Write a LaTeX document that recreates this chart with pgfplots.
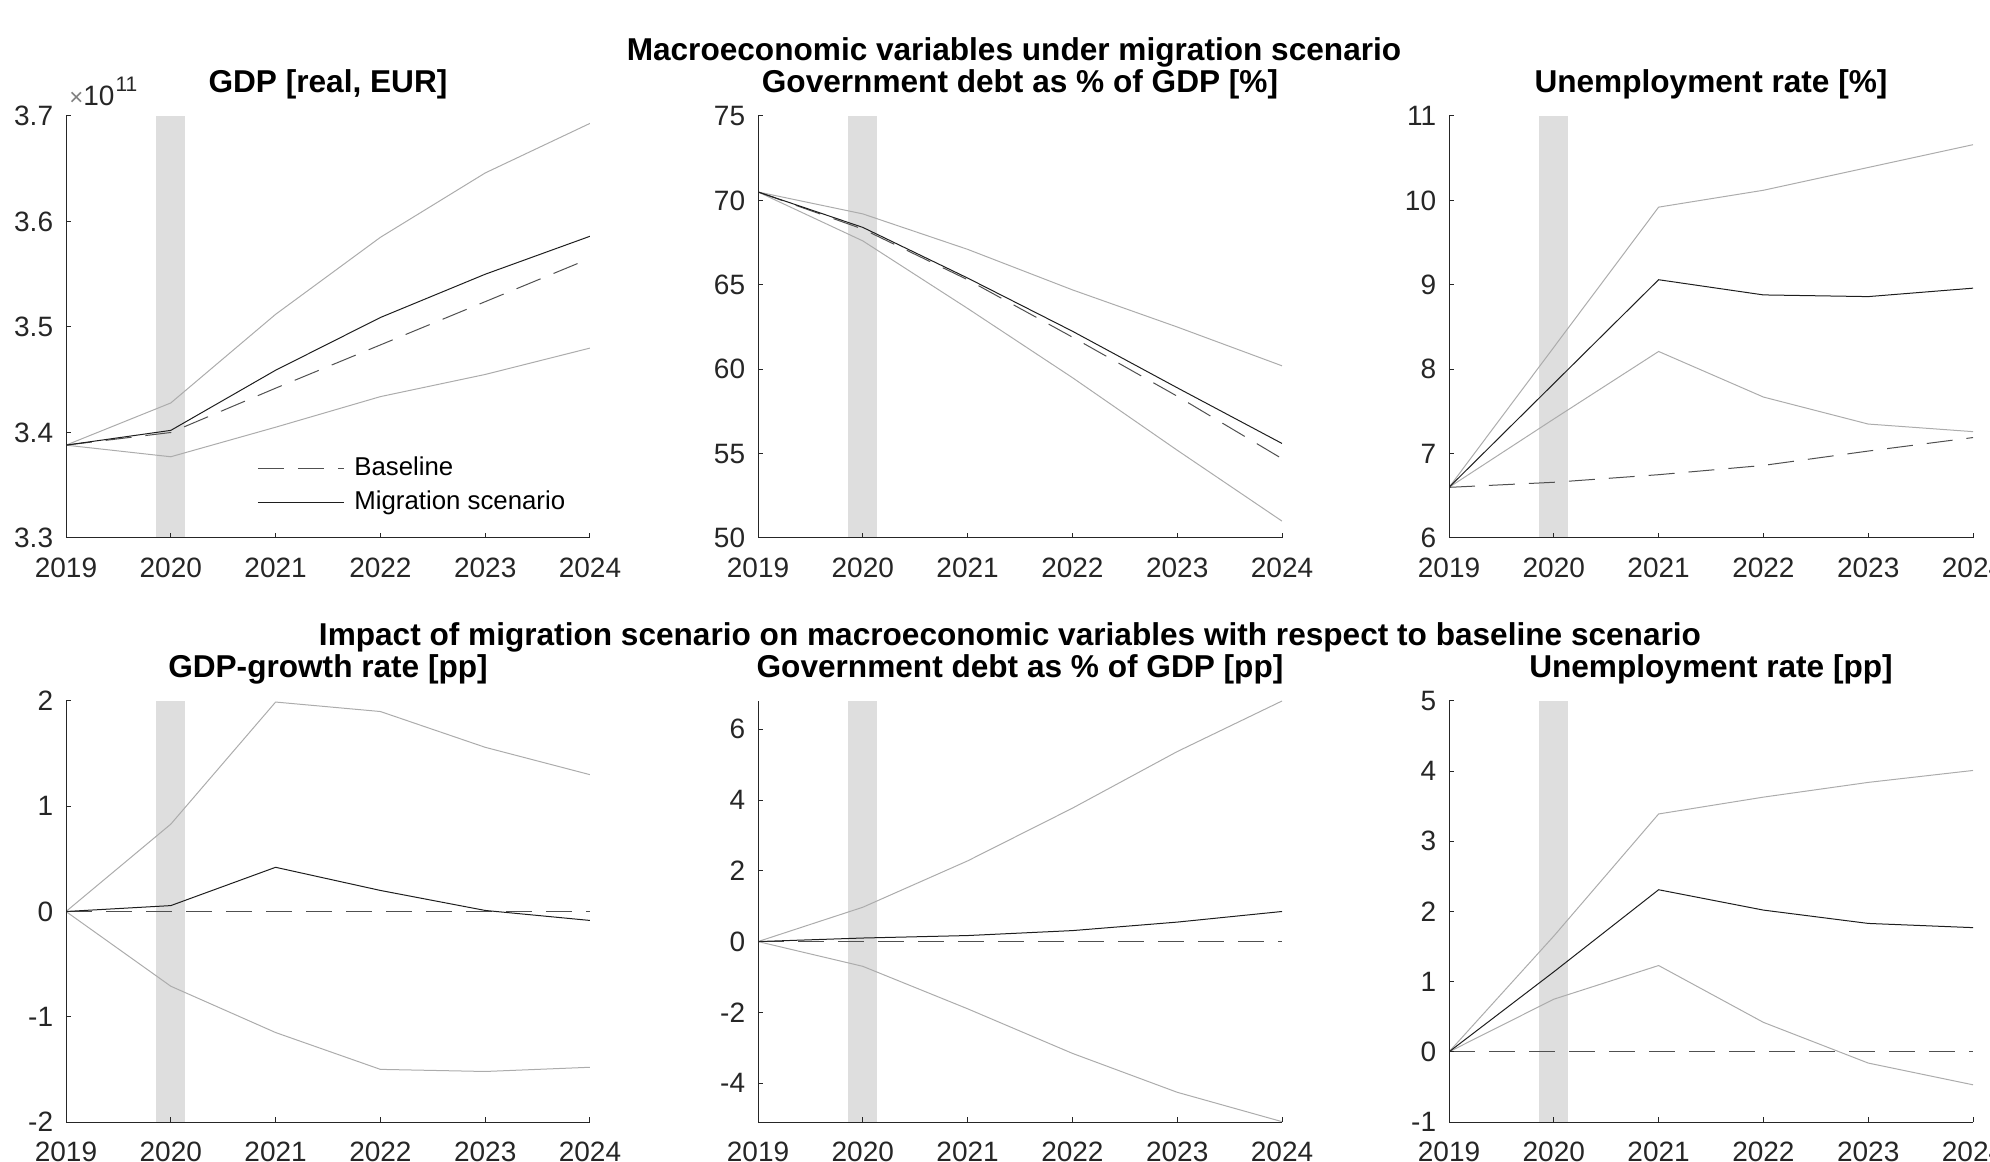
\documentclass[border=0pt]{standalone}
\usepackage{fontspec}
\setmainfont{Liberation Sans}
\usepackage{pgfplots}
\pgfplotsset{compat=1.18}
\definecolor{axgray}{RGB}{38,38,38}
\definecolor{bandc}{RGB}{222,222,222}
\definecolor{boundc}{RGB}{172,172,172}
\definecolor{migc}{RGB}{30,30,30}
\definecolor{basec}{RGB}{80,80,80}
\pgfplotsset{
  panel/.style={
    scale only axis, width=262pt, height=211pt,
    anchor=south west,
    xmin=2019, xmax=2024,
    xtick={2019,2020,2021,2022,2023,2024},
    xticklabels={2019,2020,2021,2022,2023,2024},
    axis x line*=bottom, axis y line*=left,
    axis line style={axgray, line width=0.5pt, -},
    tick align=inside, major tick length=2.5pt,
    tick style={axgray, line width=0.5pt},
    ticklabel style={font=\fontsize{14}{16}\selectfont, text=axgray, inner sep=0pt},
    xticklabel style={anchor=north, yshift=-10pt},
    yticklabel style={anchor=east, xshift=-6.25pt},
    title style={font=\bfseries\fontsize{15.8}{18}\selectfont, at={(0.5,1)}, anchor=base, yshift=5.5pt, inner sep=0pt},
    every axis plot/.append style={line width=0.5pt},
    axis on top,
    clip mode=individual,
  },
  lnb/.style={boundc, forget plot},
  lnm/.style={migc},
  lnd/.style={basec, dash pattern=on 13pt off 7pt},
}
\begin{document}
\begin{tikzpicture}
\path[use as bounding box] (0,0) rectangle (995pt,580.5pt);
\clip (0,0) rectangle (995pt,580.5pt);

\node[anchor=base, inner sep=0pt, font=\bfseries\fontsize{15.8}{18}\selectfont] at (507pt,550.25pt) {Macroeconomic variables under migration scenario};
\node[anchor=base, inner sep=0pt, font=\bfseries\fontsize{15.8}{18}\selectfont] at (505pt,257.5pt) {Impact of migration scenario on macroeconomic variables with respect to baseline scenario};

% ---------- Panel 1: GDP
\begin{axis}[panel, at={(33pt,311.5pt)},
  ymin=3.3, ymax=3.7, ytick={3.3,3.4,3.5,3.6,3.7}, yticklabels={3.3,3.4,3.5,3.6,3.7},
  title={GDP [real, EUR]},
  legend style={draw=none, fill=none, inner sep=0pt,
    at={(axis description cs:0.3645,0.1255)}, anchor=west,
    font=\fontsize{12.9}{14}\selectfont,
    nodes={inner sep=0pt, text height=9.5pt, text depth=2.5pt},
    row sep=5pt, column sep=5pt},
  legend cell align=left,
  legend image code/.code={\draw[#1] (0pt,0pt) -- (43pt,0pt);},
]
\addplot[draw=none, fill=bandc, forget plot] coordinates {(2019.86,3.3) (2020.14,3.3) (2020.14,3.7) (2019.86,3.7)};
\addplot[lnb] coordinates {(2019,3.388) (2020,3.428) (2021,3.512) (2022,3.585) (2023,3.646) (2024,3.693)};
\addplot[lnb] coordinates {(2019,3.388) (2020,3.377) (2021,3.405) (2022,3.434) (2023,3.455) (2024,3.480)};
\addplot[lnd] coordinates {(2019,3.388) (2020,3.400) (2021,3.442) (2022,3.483) (2023,3.524) (2024,3.565)};
\addlegendentry{Baseline}
\addplot[lnm] coordinates {(2019,3.388) (2020,3.402) (2021,3.459) (2022,3.509) (2023,3.550) (2024,3.586)};
\addlegendentry{Migration scenario}
\node[anchor=base west, inner sep=0pt, text=axgray, font=\fontsize{14}{16}\selectfont] at (axis description cs:0,1) [xshift=1.5pt, yshift=5pt] {{\color{gray}\fontsize{12}{14}\selectfont ×}10\kern0.5pt\raisebox{7pt}{\fontsize{10.5}{12}\selectfont 11}};
\end{axis}

% ---------- Panel 2: Debt %
\begin{axis}[panel, at={(379pt,311.5pt)},
  ymin=50, ymax=75, ytick={50,55,60,65,70,75}, yticklabels={50,55,60,65,70,75},
  title={Government debt as \% of GDP [\%]},
]
\addplot[draw=none, fill=bandc, forget plot] coordinates {(2019.86,50) (2020.14,50) (2020.14,75) (2019.86,75)};
\addplot[lnb] coordinates {(2019,70.5) (2020,69.2) (2021,67.1) (2022,64.7) (2023,62.5) (2024,60.2)};
\addplot[lnb] coordinates {(2019,70.5) (2020,67.6) (2021,63.6) (2022,59.5) (2023,55.2) (2024,51.0)};
\addplot[lnd] coordinates {(2019,70.5) (2020,68.3) (2021,65.3) (2022,61.9) (2023,58.4) (2024,54.7)};
\addplot[lnm] coordinates {(2019,70.5) (2020,68.4) (2021,65.4) (2022,62.25) (2023,58.9) (2024,55.6)};
\end{axis}

% ---------- Panel 3: Unemployment %
\begin{axis}[panel, at={(724.5pt,311.5pt)},
  ymin=6, ymax=11, ytick={6,7,8,9,10,11}, yticklabels={6,7,8,9,10,11},
  title={Unemployment rate [\%]},
]
\addplot[draw=none, fill=bandc, forget plot] coordinates {(2019.86,6) (2020.14,6) (2020.14,11) (2019.86,11)};
\addplot[lnb] coordinates {(2019,6.60) (2020,8.26) (2021,9.92) (2022,10.12) (2023,10.39) (2024,10.66)};
\addplot[lnb] coordinates {(2019,6.60) (2020,7.41) (2021,8.21) (2022,7.67) (2023,7.35) (2024,7.26)};
\addplot[lnd] coordinates {(2019,6.60) (2020,6.66) (2021,6.75) (2022,6.86) (2023,7.03) (2024,7.19)};
\addplot[lnm] coordinates {(2019,6.60) (2020,7.83) (2021,9.06) (2022,8.88) (2023,8.86) (2024,8.96)};
\end{axis}

% ---------- Panel 4: GDP growth pp
\begin{axis}[panel, at={(33pt,19.5pt)}, height=210.5pt,
  ymin=-2, ymax=2, ytick={-2,-1,0,1,2}, yticklabels={-2,-1,0,1,2},
  title={GDP-growth rate [pp]},
]
\addplot[draw=none, fill=bandc, forget plot] coordinates {(2019.86,-2) (2020.14,-2) (2020.14,2) (2019.86,2)};
\addplot[lnb] coordinates {(2019,0) (2020,0.83) (2021,1.99) (2022,1.90) (2023,1.56) (2024,1.30)};
\addplot[lnb] coordinates {(2019,0) (2020,-0.71) (2021,-1.15) (2022,-1.50) (2023,-1.52) (2024,-1.48)};
\addplot[lnd] coordinates {(2019,0) (2020,0) (2021,0) (2022,0) (2023,0) (2024,0)};
\addplot[lnm] coordinates {(2019,0) (2020,0.056) (2021,0.42) (2022,0.20) (2023,0.01) (2024,-0.085)};
\end{axis}

% ---------- Panel 5: Debt pp
\begin{axis}[panel, at={(379pt,19.5pt)}, height=210.5pt,
  ymin=-5.1, ymax=6.8, ytick={-4,-2,0,2,4,6}, yticklabels={-4,-2,0,2,4,6},
  title={Government debt as \% of GDP [pp]},
]
\addplot[draw=none, fill=bandc, forget plot] coordinates {(2019.86,-5.1) (2020.14,-5.1) (2020.14,6.8) (2019.86,6.8)};
\addplot[lnb] coordinates {(2019,0) (2020,0.97) (2021,2.28) (2022,3.77) (2023,5.37) (2024,6.8)};
\addplot[lnb] coordinates {(2019,0) (2020,-0.70) (2021,-1.90) (2022,-3.16) (2023,-4.26) (2024,-5.09)};
\addplot[lnd] coordinates {(2019,0) (2020,0) (2021,0) (2022,0) (2023,0) (2024,0)};
\addplot[lnm] coordinates {(2019,0) (2020,0.10) (2021,0.17) (2022,0.31) (2023,0.55) (2024,0.85)};
\end{axis}

% ---------- Panel 6: Unemployment pp
\begin{axis}[panel, at={(724.5pt,19.5pt)}, height=210.5pt,
  ymin=-1, ymax=5, ytick={-1,0,1,2,3,4,5}, yticklabels={-1,0,1,2,3,4,5},
  title={Unemployment rate [pp]},
]
\addplot[draw=none, fill=bandc, forget plot] coordinates {(2019.86,-1) (2020.14,-1) (2020.14,5) (2019.86,5)};
\addplot[lnb] coordinates {(2019,0) (2020,1.65) (2021,3.39) (2022,3.63) (2023,3.84) (2024,4.01)};
\addplot[lnb] coordinates {(2019,0) (2020,0.75) (2021,1.23) (2022,0.42) (2023,-0.16) (2024,-0.47)};
\addplot[lnd] coordinates {(2019,0) (2020,0) (2021,0) (2022,0) (2023,0) (2024,0)};
\addplot[lnm] coordinates {(2019,0) (2020,1.14) (2021,2.31) (2022,2.02) (2023,1.83) (2024,1.77)};
\end{axis}
\end{tikzpicture}
\end{document}
